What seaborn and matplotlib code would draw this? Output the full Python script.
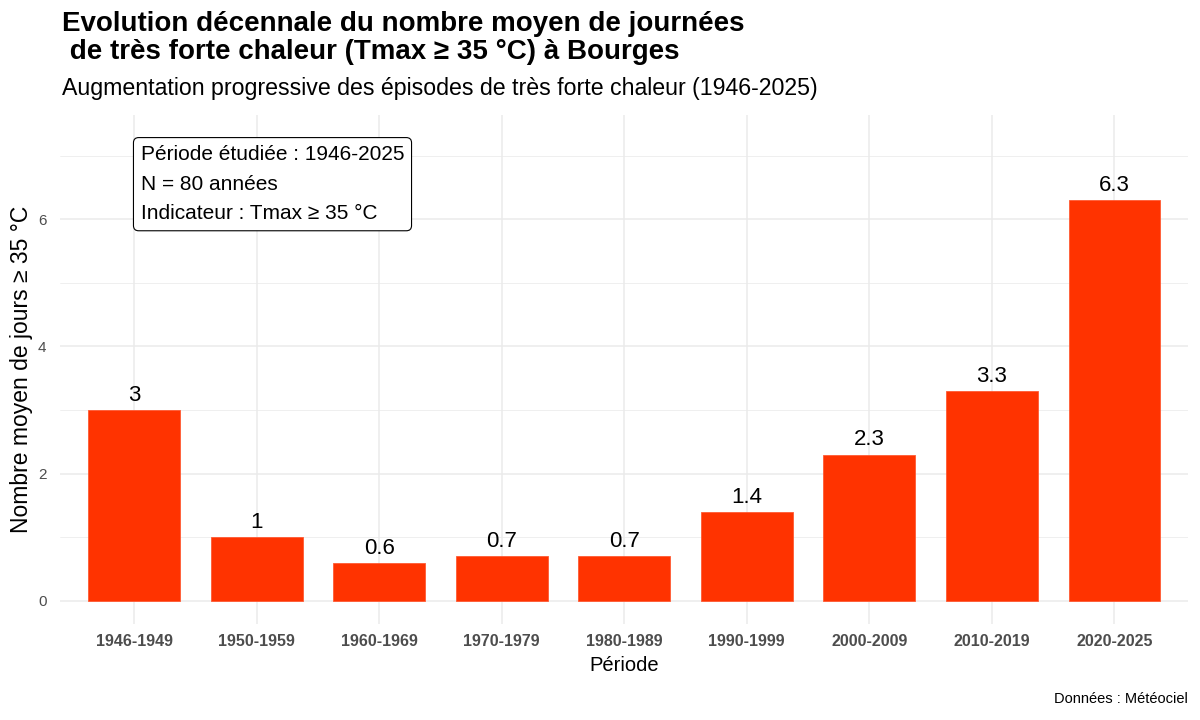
import matplotlib
matplotlib.use("Agg")
import matplotlib.pyplot as plt
import seaborn as sns
import pandas as pd

periodes = ["1946-1949", "1950-1959", "1960-1969", "1970-1979", "1980-1989",
            "1990-1999", "2000-2009", "2010-2019", "2020-2025"]
jours_moyens = [3.0, 1.0, 0.6, 0.7, 0.7, 1.4, 2.3, 3.3, 6.3]
etiquettes = ["3", "1", "0.6", "0.7", "0.7", "1.4", "2.3", "3.3", "6.3"]
y_ticks = [0, 2, 4, 6]
y_minor = [1, 3, 5, 7]

titre = "Evolution décennale du nombre moyen de journées\n de très forte chaleur (Tmax ≥ 35 °C) à Bourges"
sous_titre = "Augmentation progressive des épisodes de très forte chaleur (1946-2025)"
encadre = "Période étudiée : 1946-2025\nN = 80 années\nIndicateur : Tmax ≥ 35 °C"
legende_source = "Données : Météociel"

df = pd.DataFrame({"periode": periodes, "jours": jours_moyens})

sns.set_theme(style="white")
plt.rcParams["font.family"] = ["Liberation Sans", "DejaVu Sans"]

fig = plt.figure(figsize=(12, 7.2), dpi=100)
ax = fig.add_axes([0.0504, 0.1333, 0.9396, 0.7070])

# grid
grid_c = "#EBEBEB"
for v in y_ticks:
    ax.axhline(v, color=grid_c, lw=1.1, zorder=0)
for v in y_minor:
    ax.axhline(v, color=grid_c, lw=0.55, zorder=0)
for i in range(len(periodes)):
    ax.axvline(i, color=grid_c, lw=1.1, zorder=0)

sns.barplot(data=df, x="periode", y="jours", color="#FF3300", saturation=1,
            width=0.75, edgecolor="#FF5A33", linewidth=0.6, ax=ax, zorder=2)

for i, (v, lab) in enumerate(zip(jours_moyens, etiquettes)):
    ax.annotate(lab, (i, v), xytext=(0, 3), textcoords="offset points",
                ha="center", va="bottom", fontsize=16, color="black", zorder=3)

ax.text(0.055, 7.17, encadre, ha="left", va="top", fontsize=15, color="black",
        linespacing=1.72, zorder=4,
        bbox=dict(boxstyle="round,pad=0.35,rounding_size=0.25", fc="white",
                  ec="black", lw=0.8))

ax.set_xlim(-0.6, len(periodes) - 0.4)
ax.set_ylim(-0.364, 7.64)
ax.set_yticks(y_ticks)
ax.set_yticklabels([str(t) for t in y_ticks])
ax.tick_params(axis="y", length=0, pad=10, labelsize=11, labelcolor="#4D4D4D")
ax.tick_params(axis="x", length=0, pad=7, labelsize=11.5, labelcolor="#4D4D4D")
for lab in ax.get_xticklabels():
    lab.set_fontweight("bold")
for s in ax.spines.values():
    s.set_visible(False)
ax.set_xlabel("Période", fontsize=14.5, color="black", labelpad=5)
ax.set_ylabel("Nombre moyen de jours ≥ 35 °C", fontsize=16.5, color="black", labelpad=4)

fig.text(0.0517, 0.985, titre, ha="left", va="top", fontsize=20,
         fontweight="bold", color="black", linespacing=1.1)
fig.text(0.0517, 0.893, sous_titre, ha="left", va="top", fontsize=16.7, color="black")
fig.text(0.99, 0.02, legende_source, ha="right", va="bottom", fontsize=10.5, color="black")

fig.savefig("out.png", dpi=100, facecolor="white")
